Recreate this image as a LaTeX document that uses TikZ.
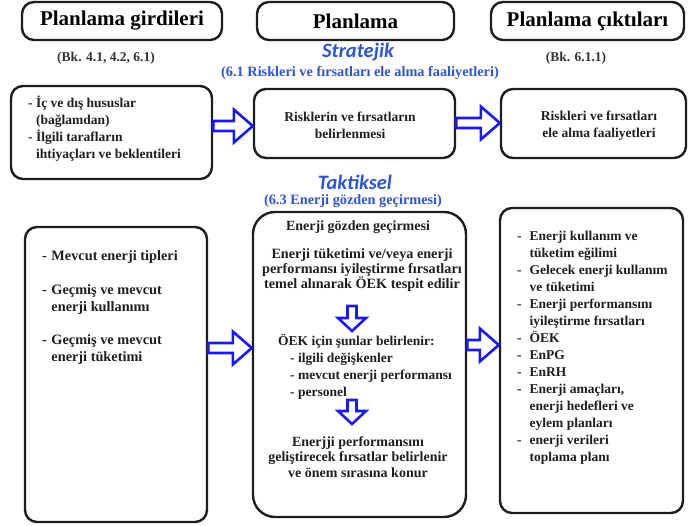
\documentclass[tikz,border=0pt]{standalone}
\usepackage{fontspec}
\setmainfont{Liberation Serif}
\newfontfamily\headsans{Carlito}
\usetikzlibrary{calc}

\definecolor{arrowblue}{RGB}{25,25,245}
\definecolor{labelblue}{RGB}{45,85,215}
\definecolor{boxline}{RGB}{30,30,30}

\tikzset{
  box/.style={draw=boxline, line width=2.4pt, rounded corners=12pt, inner sep=0pt},
  headbox/.style={box, font=\fontsize{21}{23}\selectfont\bfseries, minimum height=38pt},
  body/.style={font=\fontsize{13.5}{17}\selectfont\bfseries, text=boxline, inner sep=0pt},
  ref/.style={body, text=black!80},
  levelname/.style={font=\headsans\fontsize{20.5}{22}\selectfont\bfseries\itshape, text=labelblue, inner sep=0pt},
  levelref/.style={body, font=\fontsize{14.3}{17}\selectfont\bfseries, text=labelblue},
  blockarrow/.style={draw=arrowblue, line width=2.6pt, fill=white, line join=miter},
}

% hollow block arrows
\newcommand{\rightblock}[2]{%
  \draw[blockarrow] let \p1=(#1), \p2=(#2) in
    (\x1,\y1+5pt) -- (\x2-19pt,\y1+5pt) -- (\x2-19pt,\y1+16.5pt) -- (\x2,\y1)
    -- (\x2-19pt,\y1-16.5pt) -- (\x2-19pt,\y1-5pt) -- (\x1,\y1-5pt) -- cycle;}
\newcommand{\downblock}[2]{%
  \draw[blockarrow] let \p1=(#1), \p2=(#2) in
    (\x1-4.5pt,\y1) -- (\x1-4.5pt,\y2+13pt) -- (\x1-14pt,\y2+13pt) -- (\x1,\y2)
    -- (\x1+14pt,\y2+13pt) -- (\x1+4.5pt,\y2+13pt) -- (\x1+4.5pt,\y1) -- cycle;}

\begin{document}
\begin{tikzpicture}[x=1pt, y=-1pt]
  \useasboundingbox (0,0) rectangle (688,526);

  % column heads
  \node[headbox, minimum width=200pt] (hin) at (122,21) {Planlama girdileri};
  \node[headbox, minimum width=197pt] (hplan) at (355.5,21) {Planlama};
  \node[headbox, minimum width=193pt] (hout) at (587.5,21) {Planlama çıktıları};

  \node[ref] (bkin) at (106,58) {(Bk. 4.1, 4.2, 6.1)};
  \node[ref] (bkout) at (576,58) {(Bk. 6.1.1)};

  % strategic level
  \node[levelname] (strat) at (358,52) {Stratejik};
  \node[levelref] (stratref) at (360,73) {(6.1 Riskleri ve fırsatları ele alma faaliyetleri)};

  \node[box, minimum width=201pt, minimum height=93pt] (in2) at (111.5,132.5) {};
  \node[box, minimum width=201pt, minimum height=69pt] (mid2) at (354.5,123.5) {};
  \node[box, minimum width=185pt, minimum height=69pt] (out2) at (593.5,123.5) {};

  \node[body, anchor=base west] (in2txt) at (28,108)
    {\begin{tabular}[t]{@{}l@{\ }l@{}}
      - & İç ve dış hususlar\\
        & (bağlamdan)\\
      - & İlgili tarafların\\
        & ihtiyaçları ve beklentileri
    \end{tabular}};
  \node[body, anchor=base] (mid2txt) at (350,122)
    {\begin{tabular}[t]{@{}c@{}}Risklerin ve fırsatların\\belirlenmesi\end{tabular}};
  \node[body, anchor=base] (out2txt) at (599,121)
    {\begin{tabular}[t]{@{}c@{}}Riskleri ve fırsatları\\ele alma faaliyetleri\end{tabular}};

  \coordinate (r2a) at (0,126);
  \coordinate (r2b) at (0,123);
  \rightblock{in2.east |- r2a}{mid2.west}
  \rightblock{mid2.east |- r2b}{out2.west}

  % tactical level
  \node[levelname] (takt) at (355,182) {Taktiksel};
  \node[levelref] (taktref) at (353,201) {(6.3 Enerji gözden geçirmesi)};

  \node[box, minimum width=182pt, minimum height=295pt] (in3) at (116,374.5) {};
  \node[box, rounded corners=22pt, minimum width=213pt, minimum height=305pt] (mid3) at (359.5,364.5) {};
  \node[box, minimum width=183pt, minimum height=305pt] (out3) at (591.5,360.5) {};

  \node[body, font=\fontsize{14.3}{17}\selectfont\bfseries, anchor=base west] (in3txt) at (42,261)
    {\begin{tabular}[t]{@{}l@{\hspace{4.5pt}}l@{}}
      - & Mevcut enerji tipleri\\[17pt]
      - & Geçmiş ve mevcut\\
        & enerji kullanımı\\[16pt]
      - & Geçmiş ve mevcut\\
        & enerji tüketimi
    \end{tabular}};

  \node[body, font=\fontsize{14}{17}\selectfont\bfseries, anchor=base] (egtitle) at (358,231) {Enerji gözden geçirmesi};
  \node[body, font=\fontsize{14.2}{17}\selectfont\bfseries, anchor=base] (egfirst) at (362,259)
    {\begin{tabular}[t]{@{}c@{}}
      Enerji tüketimi ve/veya enerji\\[-2pt]
      performansı iyileştirme fırsatları\\[-2pt]
      temel alınarak ÖEK tespit edilir
    \end{tabular}};
  \node[body, anchor=base west] (oek) at (278,346)
    {\begin{tabular}[t]{@{}l@{}}
      ÖEK için şunlar belirlenir:\\
      \hspace{12pt}- ilgili değişkenler\\
      \hspace{12pt}- mevcut enerji performansı\\
      \hspace{12pt}- personel
    \end{tabular}};
  \node[body, font=\fontsize{14}{17}\selectfont\bfseries, anchor=base] (eglast) at (358,446)
    {\begin{tabular}[t]{@{}c@{}}
      Enerjji performansını\\[-1pt]
      geliştirecek fırsatlar belirlenir\\[-1pt]
      ve önem sırasına konur
    \end{tabular}};

  \node[body, anchor=base west] (out3txt) at (517,241)
    {\begin{tabular}[t]{@{}l@{\hspace{8pt}}l@{}}
      - & Enerji kullanım ve\\
        & tüketim eğilimi\\
      - & Gelecek enerji kullanım\\
        & ve tüketimi\\
      - & Enerji performansını\\
        & iyileştirme fırsatları\\
      - & ÖEK\\
      - & EnPG\\
      - & EnRH\\
      - & Enerji amaçları,\\
        & enerji hedefleri ve\\
        & eylem planları\\
      - & enerji verileri\\
        & toplama planı
    \end{tabular}};

  \coordinate (r3a) at (0,348);
  \coordinate (r3b) at (0,345);
  \rightblock{in3.east |- r3a}{mid3.west}
  \rightblock{mid3.east |- r3b}{out3.west}

  \coordinate (d1) at (352,306);
  \coordinate (d1e) at (352,331);
  \coordinate (d2) at (352,400);
  \coordinate (d2e) at (352,424);
  \downblock{d1}{d1e}
  \downblock{d2}{d2e}
\end{tikzpicture}
\end{document}
